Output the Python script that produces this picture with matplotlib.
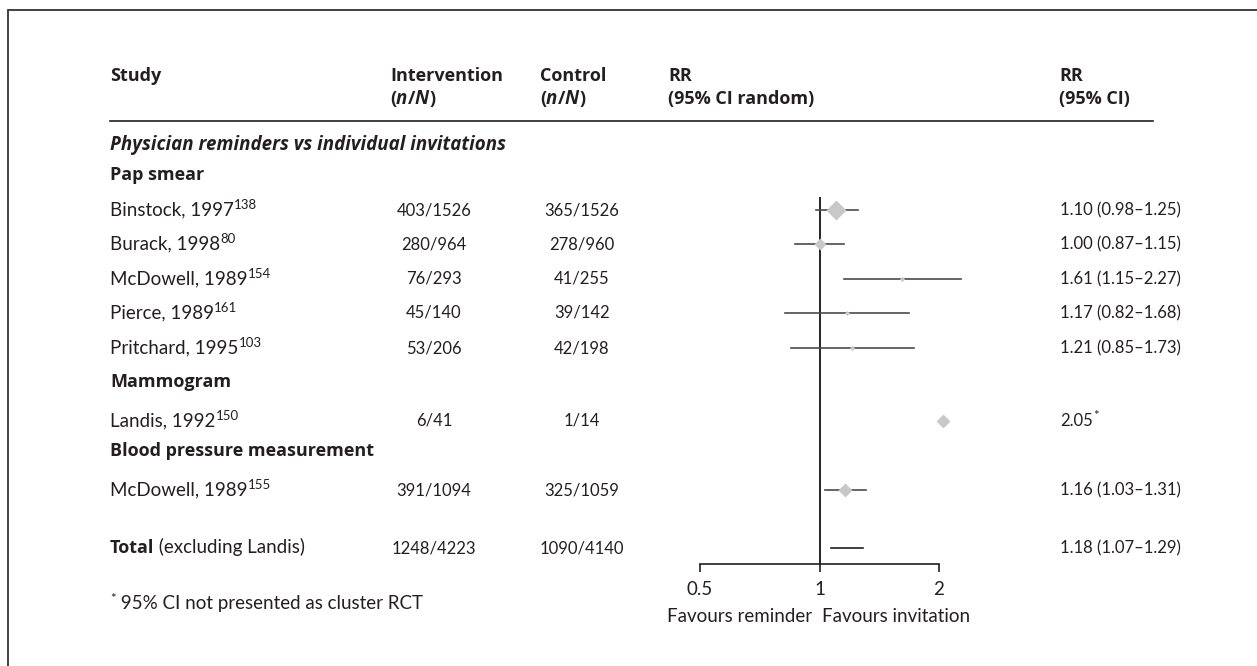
import numpy as np
import matplotlib
matplotlib.use("Agg")
import matplotlib.pyplot as plt

plt.rcParams['font.family'] = ['Lato', 'DejaVu Sans']

# ---- data ----
studies = ["Binstock, 1997", "Burack, 1998", "McDowell, 1989", "Pierce, 1989",
           "Pritchard, 1995", "Landis, 1992", "McDowell, 1989"]
refs = ["138", "80", "154", "161", "103", "150", "155"]
groups = ["Pap smear", "Mammogram", "Blood pressure measurement"]
intervention = ["403/1526", "280/964", "76/293", "45/140", "53/206", "6/41", "391/1094"]
control = ["365/1526", "278/960", "41/255", "39/142", "42/198", "1/14", "325/1059"]
rr = [1.10, 1.00, 1.61, 1.17, 1.21, 2.05, 1.16]
rr_lo = [0.98, 0.87, 1.15, 0.82, 0.85, None, 1.03]
rr_hi = [1.25, 1.15, 2.27, 1.68, 1.73, None, 1.31]
rr_text = ["1.10 (0.98\u20131.25)", "1.00 (0.87\u20131.15)", "1.61 (1.15\u20132.27)",
           "1.17 (0.82\u20131.68)", "1.21 (0.85\u20131.73)", "2.05", "1.16 (1.03\u20131.31)"]
total_int = "1248/4223"
total_ctl = "1090/4140"
total_rr, total_lo, total_hi = 1.18, 1.07, 1.29
total_text = "1.18 (1.07\u20131.29)"
xticks = [0.5, 1, 2]
xticklabels = ["0.5", "1", "2"]

# ---- layout (pixels) ----
W, H = 1257, 666
study_y = [210, 244, 279, 313, 348, 421, 490]
group_y = [175, 382, 451]
section_y = 145
total_y = 548
box_size = [10, 6, 2.6, 2.6, 2.6, 7.5, 7]   # marker size ~ weight
TXT = "#231f20"
FS = 13.5    # words
FN = 12      # numbers
FB = 13      # bold

fig = plt.figure(figsize=(W / 100, H / 100), dpi=100)
base = fig.add_axes([0, 0, 1, 1])
base.set_xlim(0, W)
base.set_ylim(H, 0)
base.axis("off")
renderer = fig.canvas.get_renderer()


def put(x, y, segs, ha="left"):
    """draw text pieces one after another on a common baseline"""
    arts = []
    cx = x
    for s, kw in segs:
        kw = dict(kw)
        dy = kw.pop("dy", 0)
        size = kw.pop("size", FS)
        t = base.text(cx, y + 5 - dy, s, fontsize=size, color=TXT, va="baseline",
                      ha="left", **kw)
        cx += t.get_window_extent(renderer).width
        arts.append(t)
    if ha == "center":
        shift = (cx - x) / 2
    elif ha == "right":
        shift = cx - x
    else:
        shift = 0
    for t in arts:
        t.set_x(t.get_position()[0] - shift)


OS = ["Open Sans", "DejaVu Sans"]
B = {"family": OS, "fontweight": "bold", "size": FB}
BI = {"family": OS, "fontweight": "bold", "fontstyle": "italic", "size": 13.5}
R = {}
N = {"size": FN}
SUP = {"size": 9.5, "dy": 6}

# frame (left and top edges visible)
base.plot([8, 8, W], [H, 10, 10], color="#333333", lw=1.3, solid_joinstyle="miter")

# header
hy1, hy2 = 76, 99
nN = [("(", B), ("n", BI), ("/", B), ("N", BI), (")", B)]
put(110, hy1, [("Study", B)])
put(390, hy1, [("Intervention", B)])
put(390, hy2, nN)
put(540, hy1, [("Control", B)])
put(540, hy2, nN)
put(668, hy1, [("RR", B)])
put(668, hy2, [("(95% CI random)", B)])
put(1059, hy1, [("RR", B)])
put(1059, hy2, [("(95% CI)", B)])
base.plot([110, 1153], [121, 121], color=TXT, lw=1.2)

put(110, section_y, [("Physician reminders vs individual invitations", BI)])
for g, gy in zip(groups, group_y):
    put(110, gy, [(g, B)])

for i in range(len(studies)):
    y = study_y[i]
    put(110, y, [(studies[i], R), (refs[i], SUP)])
    put(434, y, [(intervention[i], N)], ha="center")
    put(582, y, [(control[i], N)], ha="center")
    if rr_lo[i] is None:
        put(1060, y, [(rr_text[i], N), ("*", SUP)])
    else:
        put(1060, y, [(rr_text[i], N)])

put(110, total_y, [("Total", B), (" (excluding Landis)", R)])
put(434, total_y, [(total_int, N)], ha="center")
put(582, total_y, [(total_ctl, N)], ha="center")
put(1060, total_y, [(total_text, N)])

put(110, 604, [("*", SUP), (" 95% CI not presented as cluster RCT", R)])

# ---- forest panel ----
x0, x1 = 700, 939
y_top, y_axis = 197, 564
ax = fig.add_axes([x0 / W, 1 - y_axis / H, (x1 - x0) / W, (y_axis - y_top) / H])
ax.set_xscale("log")
ax.set_xlim(0.5, 2)
ax.set_ylim(y_axis, y_top)
ax.patch.set_alpha(0)
for sp in ["top", "right", "left"]:
    ax.spines[sp].set_visible(False)
ax.spines["bottom"].set_color(TXT)
ax.spines["bottom"].set_linewidth(1.2)
ax.set_yticks([])
ax.set_xticks(xticks)
ax.set_xticklabels(xticklabels, fontsize=FS, color=TXT)
ax.xaxis.set_minor_locator(matplotlib.ticker.NullLocator())
ax.tick_params(axis="x", direction="out", length=6, width=1.2, color=TXT, pad=6)
ax.axvline(1, color="black", lw=1.2)

for i in range(len(studies)):
    y = study_y[i]
    if rr_lo[i] is not None:
        ax.plot([rr_lo[i], rr_hi[i]], [y, y], color="#4a4a4a", lw=1.2, clip_on=False)
    ax.plot(rr[i], y, marker="D", ms=box_size[i], color="#c8c8c8", mec="none",
            clip_on=False, zorder=3)
ax.plot([total_lo, total_hi], [total_y, total_y], color=TXT, lw=1.2, clip_on=False)

put(812, 617, [("Favours reminder", R)], ha="right")
put(822, 617, [("Favours invitation", R)])

fig.savefig("out.png", dpi=100)
